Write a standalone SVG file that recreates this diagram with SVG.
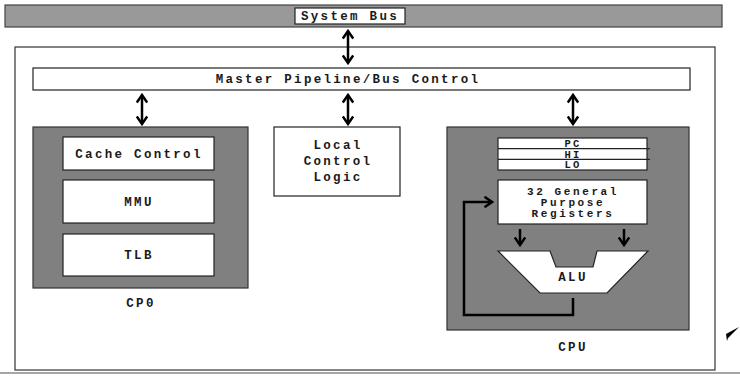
<svg xmlns="http://www.w3.org/2000/svg" width="740" height="378" viewBox="0 0 740 378">
<style>
.t{font-family:"Liberation Mono","Courier New",monospace;font-size:12.5px;font-weight:bold;letter-spacing:2.3px;fill:#1a1a1a;text-anchor:middle;dominant-baseline:central}
.s{font-size:10.5px;letter-spacing:2.3px}
.m{font-size:11px;letter-spacing:2.6px}
.w{fill:#fff;stroke:#222;stroke-width:1.2}
.g{fill:#808080;stroke:#333;stroke-width:1.2}
.c{fill:none;stroke:#000;stroke-width:2.5}
</style>
<defs>
<marker id="ah" markerWidth="12" markerHeight="12" viewBox="0 0 12 12" refX="10" refY="6" orient="auto-start-reverse" markerUnits="userSpaceOnUse">
<polyline points="2.5,0.8 10,6 2.5,11.2" fill="none" stroke="#000" stroke-width="2.5"/>
</marker>
</defs>
<rect x="0" y="0" width="740" height="378" fill="#fff"/>
<g id="system-bus">
<rect x="5" y="5" width="717" height="22" fill="#999" stroke="#444" stroke-width="1.2"/>
<rect x="295" y="8" width="110" height="16" class="w"/>
<text class="t" x="350" y="17">System Bus</text>
</g>
<g id="frame">
<rect x="15" y="47" width="700" height="323" fill="none" stroke="#333" stroke-width="1.2"/>
<line x1="0" y1="373" x2="740" y2="373" stroke="#888" stroke-width="1.5"/>
<polygon points="726,334 739,327 728,338 727,341" fill="#000"/>
</g>
<g id="master-pipeline">
<rect x="33" y="68" width="657" height="22" class="w"/>
<text class="t" x="348" y="80">Master Pipeline/Bus Control</text>
</g>
<g id="cp0">
<rect x="33" y="127" width="215" height="161" class="g"/>
<text class="t" x="141" y="304">CP0</text>
</g>
<g id="cache-control">
<rect x="63" y="137" width="151" height="33" class="w"/>
<text class="t" x="139" y="155">Cache Control</text>
</g>
<g id="mmu">
<rect x="63" y="180" width="151" height="43" class="w"/>
<text class="t" x="139" y="203">MMU</text>
</g>
<g id="tlb">
<rect x="63" y="234" width="151" height="42" class="w"/>
<text class="t" x="139" y="256">TLB</text>
</g>
<g id="local-control-logic">
<rect x="274" y="127" width="126" height="69" class="w"/>
<text class="t" x="338" y="146">Local</text>
<text class="t" x="338" y="162">Control</text>
<text class="t" x="338" y="178">Logic</text>
</g>
<g id="cpu">
<rect x="447" y="127" width="242" height="203" class="g"/>
<text class="t" x="573" y="348">CPU</text>
</g>
<g id="pc-hi-lo">
<rect x="498" y="138" width="149" height="32" class="w"/>
<line x1="498" y1="148.7" x2="650" y2="148.7" stroke="#222" stroke-width="1.2"/>
<line x1="498" y1="159.3" x2="650" y2="159.3" stroke="#222" stroke-width="1.2"/>
<text class="t s" x="573" y="144">PC</text>
<text class="t s" x="573" y="154.5">HI</text>
<text class="t s" x="573" y="165">LO</text>
</g>
<g id="gpr">
<rect x="498" y="180" width="149" height="44" class="w"/>
<text class="t m" x="573" y="191.5">32 General</text>
<text class="t m" x="573" y="202.5">Purpose</text>
<text class="t m" x="573" y="213.5">Registers</text>
</g>
<g id="alu">
<polygon points="498,251 550,251 556,267 593,267 597,251 648,251 607,293 540,293" fill="#fff" stroke="#222" stroke-width="1.2"/>
<text class="t" x="573" y="278">ALU</text>
</g>
<g id="connectors">
<line class="c" x1="348" y1="31" x2="348" y2="63" marker-start="url(#ah)" marker-end="url(#ah)"/>
<line class="c" x1="142" y1="95" x2="142" y2="124" marker-start="url(#ah)" marker-end="url(#ah)"/>
<line class="c" x1="348" y1="95" x2="348" y2="124" marker-start="url(#ah)" marker-end="url(#ah)"/>
<line class="c" x1="573" y1="95" x2="573" y2="124" marker-start="url(#ah)" marker-end="url(#ah)"/>
<line class="c" x1="520" y1="229" x2="520" y2="245" marker-end="url(#ah)"/>
<line class="c" x1="624" y1="229" x2="624" y2="245" marker-end="url(#ah)"/>
<polyline class="c" points="573,298 573,315 464,315 464,202 492,202" marker-end="url(#ah)"/>
</g>
</svg>
